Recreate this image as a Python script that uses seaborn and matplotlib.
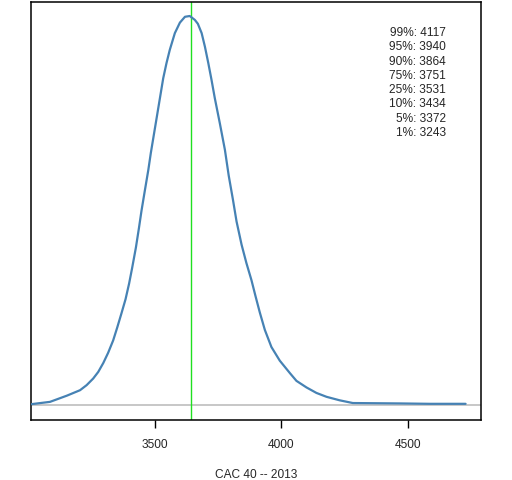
import numpy as np
import pandas as pd
import matplotlib
matplotlib.use("Agg")
import matplotlib.pyplot as plt
import seaborn as sns

# density of CAC 40 closing levels in 2013 (peak scaled to 1)
level = [3010, 3085, 3152, 3204, 3230, 3256, 3276, 3296, 3315, 3335,
         3351, 3368, 3384, 3398, 3410, 3425, 3437, 3447, 3460, 3474,
         3484, 3507, 3520, 3533, 3546, 3559, 3579, 3599, 3619, 3638,
         3658, 3670, 3685, 3698, 3711, 3724, 3737, 3757, 3777, 3792,
         3809, 3823, 3843, 3862, 3882, 3898, 3915, 3935, 3961, 3994,
         4034, 4060, 4100, 4139, 4179, 4231, 4283, 4468, 4587, 4729]
density = [0.002, 0.008, 0.024, 0.038, 0.051, 0.068, 0.085, 0.108, 0.134, 0.166,
           0.199, 0.236, 0.272, 0.312, 0.352, 0.405, 0.455, 0.499, 0.550, 0.604,
           0.648, 0.738, 0.789, 0.840, 0.879, 0.913, 0.956, 0.983, 0.998, 1.000,
           0.990, 0.980, 0.956, 0.921, 0.880, 0.836, 0.789, 0.724, 0.656, 0.590,
           0.527, 0.472, 0.412, 0.365, 0.321, 0.280, 0.238, 0.193, 0.149, 0.114,
           0.082, 0.062, 0.045, 0.031, 0.021, 0.012, 0.005, 0.004, 0.003, 0.003]

median = 3642
quant_names = ["99%", "95%", "90%", "75%", "25%", "10%", "5%", "1%"]
quant_vals = [4117, 3940, 3864, 3751, 3531, 3434, 3372, 3243]
xticks = [3500, 4000, 4500]

df = pd.DataFrame({"level": level, "density": density})

sns.set_style("white")
plt.rcParams['font.family'] = ['Liberation Sans', 'DejaVu Sans']

fig = plt.figure(figsize=(5.12, 4.8), dpi=100)
ax = fig.add_axes([31/512, 60/480, 450/512, 418/480])

ax.axhline(0, color="#bebebe", lw=1.2, zorder=1)
ax.axvline(median, color="#20e020", lw=1.0, zorder=1)
sns.lineplot(data=df, x="level", y="density", ax=ax, color="steelblue",
             lw=1.6, zorder=3)

ax.set_xlim(3010, 4790)
ax.set_ylim(-0.0386, 1.036)
ax.set_xticks(xticks)
ax.set_xticklabels([str(t) for t in xticks], fontsize=8.6)
ax.set_yticks([])
ax.set_ylabel("")
ax.set_xlabel("CAC 40 -- 2013", fontsize=8.6, labelpad=13)
ax.tick_params(axis="x", bottom=True, length=6, width=1, color="black", pad=8)
for sp in ax.spines.values():
    sp.set_color("black")
    sp.set_linewidth(1.1)

for i, (nm, v) in enumerate(zip(quant_names, quant_vals)):
    ax.text(0.922, 0.926 - i * 0.0342, f"{nm}: {v}", transform=ax.transAxes,
            ha="right", va="center", fontsize=8.6)

fig.savefig("out.png", dpi=100)
